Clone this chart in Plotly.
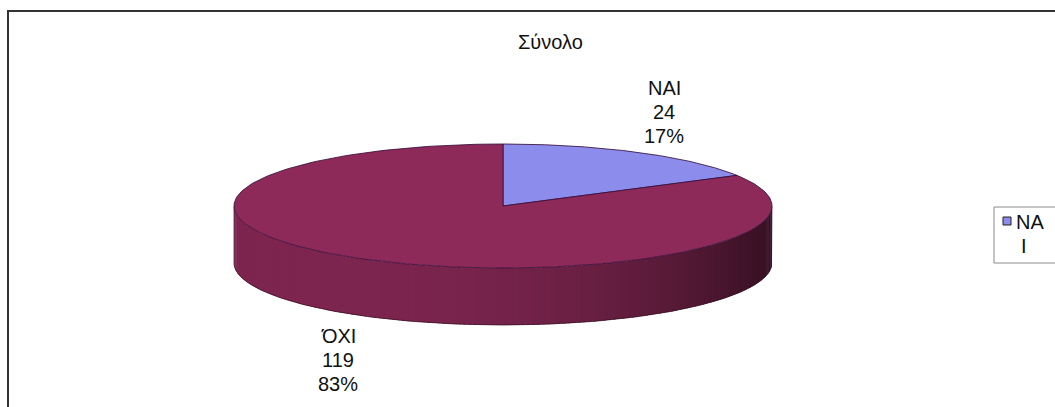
import numpy as np
import plotly.graph_objects as go

# ---- data -------------------------------------------------------------
categories = ["ΝΑΙ", "ΌΧΙ"]
counts = [24, 119]
slice_colors = [(140, 140, 236), (142, 42, 90)]
chart_title = "Σύνολο"

# ---- canvas / pie geometry (pixel space) -------------------------------
W, H = 1055, 407
CX, CY = 503, 206          # centre of the top face
RX, RY = 269, 62           # radii of the top ellipse
DEPTH = 57                 # thickness of the disc
FONT = "Liberation Sans, Arial, sans-serif"
FONT_SIZE = 20
LINE_GAP = 24              # spacing between the lines of a data label

total = sum(counts)
shares = [c / total for c in counts]
edges = np.concatenate([[0.0], np.cumsum(shares)]) * 2 * np.pi


def ellipse(theta, dy=0.0):
    """Point on the pie rim; theta measured clockwise from 12 o'clock."""
    return CX + RX * np.sin(theta), CY - RY * np.cos(theta) + dy


def rgb(c, f=1.0):
    return "rgb({},{},{})".format(*[int(round(v * f)) for v in c])


fig = go.Figure()

# ---- side wall: shaded, slightly overlapping strips on the front half --
n_strips = 160
front = np.linspace(np.pi / 2, 3 * np.pi / 2, n_strips + 1)
step = front[1] - front[0]
for a, b in zip(front[:-1], front[1:]):
    mid = 0.5 * (a + b)
    idx = int(np.searchsorted(edges, mid % (2 * np.pi)) - 1)
    x_mid, _ = ellipse(mid)
    t = (x_mid - (CX - RX)) / (2 * RX)
    shade = 0.88 - 0.50 * t ** 3
    th = np.linspace(a, min(b + 0.6 * step, 3 * np.pi / 2), 4)
    xt, yt = ellipse(th)
    xb, yb = ellipse(th[::-1], DEPTH)
    col = rgb(slice_colors[idx], shade)
    fig.add_trace(go.Scatter(
        x=np.concatenate([xt, xb, xt[:1]]), y=np.concatenate([yt, yb, yt[:1]]),
        mode="lines", fill="toself", fillcolor=col,
        line=dict(width=0), hoverinfo="skip", showlegend=False))

# outline of the side wall
th = np.linspace(np.pi / 2, 3 * np.pi / 2, 200)
xs, ys = ellipse(th, DEPTH)
xl, yl = ellipse(np.array([3 * np.pi / 2]))
xr, yr = ellipse(np.array([np.pi / 2]))
fig.add_trace(go.Scatter(
    x=np.concatenate([[xr[0]], xs, [xl[0]]]),
    y=np.concatenate([[yr[0]], ys, [yl[0]]]),
    mode="lines", line=dict(color="rgba(50,10,30,0.7)", width=1),
    hoverinfo="skip", showlegend=False))

# ---- top face slices ---------------------------------------------------
for cat, a, b, col in zip(categories, edges[:-1], edges[1:], slice_colors):
    th = np.linspace(a, b, 200)
    xa, ya = ellipse(th)
    fig.add_trace(go.Scatter(
        x=np.concatenate([[CX], xa, [CX]]), y=np.concatenate([[CY], ya, [CY]]),
        mode="lines", fill="toself", fillcolor=rgb(col),
        line=dict(color="rgba(55,15,60,0.85)", width=1),
        name=cat, hoverinfo="skip", showlegend=False))

# ---- data labels (name / count / percent, one line each) --------------
label_pos = {"ΝΑΙ": (664, 88), "ΌΧΙ": (338, 336)}
for cat, c, s in zip(categories, counts, shares):
    lx, ly = label_pos[cat]
    for k, line in enumerate([cat, str(c), f"{round(s * 100)}%"]):
        fig.add_annotation(
            x=lx, y=ly + k * LINE_GAP, xref="x", yref="y", showarrow=False,
            text=line, font=dict(family=FONT, size=FONT_SIZE, color="#111"))

fig.add_annotation(x=550, y=42, xref="x", yref="y", showarrow=False,
                   text=chart_title,
                   font=dict(family=FONT, size=FONT_SIZE, color="#111"))

# ---- legend box (partly cut off at the right edge) --------------------
fig.add_shape(type="rect", xref="x", yref="y", x0=994, y0=207, x1=1075, y1=263,
              line=dict(color="#8a8a8a", width=1), fillcolor="white", layer="above")
fig.add_shape(type="rect", xref="x", yref="y", x0=1003, y0=217, x1=1011, y1=225,
              line=dict(color="#222", width=1), fillcolor=rgb(slice_colors[0]),
              layer="above")
fig.add_annotation(x=1014, y=222, xref="x", yref="y", showarrow=False,
                   xanchor="left", text=categories[0][:2],
                   font=dict(family=FONT, size=FONT_SIZE, color="#111"))
fig.add_annotation(x=1024, y=246, xref="x", yref="y", showarrow=False,
                   text=categories[0][2:],
                   font=dict(family=FONT, size=FONT_SIZE, color="#111"))

# ---- chart frame ------------------------------------------------------
fig.add_shape(type="rect", xref="x", yref="y", x0=8, y0=11, x1=1080, y1=440,
              line=dict(color="#333", width=2), layer="above")

fig.update_xaxes(range=[0, W], visible=False, fixedrange=True)
fig.update_yaxes(range=[H, 0], visible=False, fixedrange=True)
fig.update_layout(width=W, height=H, margin=dict(l=0, r=0, t=0, b=0),
                  plot_bgcolor="white", paper_bgcolor="white",
                  showlegend=False, hovermode=False)

fig.write_html("out.html")
